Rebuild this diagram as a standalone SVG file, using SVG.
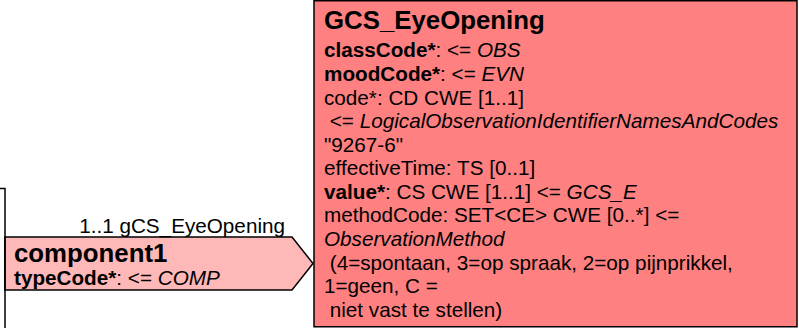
<svg xmlns="http://www.w3.org/2000/svg" width="799" height="329" viewBox="0 0 799 329">
<style>
text{font-family:"Liberation Sans",Arial,sans-serif;fill:#000}
.t{font-size:25.8px;font-weight:bold}
.b{font-size:20.7px}
.k{font-weight:bold}
.i{font-style:italic}
.ln{fill:none;stroke:#000;stroke-width:1.5}
</style>
<rect width="799" height="329" fill="#fff"/>
<g id="partial-class">
<path class="ln" d="M0,188.5 H5 V328"/>
</g>
<g id="connectors">
<path d="M5,237 H292 L313,263.5 L292,290 H5 Z" fill="#ffb8b8" stroke="#000" stroke-width="1.5"/>
<path d="M5,237 V290" stroke="#000" stroke-width="1.5"/>
<text class="b" x="285" y="233" text-anchor="end">1..1 gCS_EyeOpening</text>
<text class="t" x="14" y="262">component1</text>
<text class="b" x="14" y="285"><tspan class="k">typeCode*</tspan>: &lt;= <tspan class="i">COMP</tspan></text>
</g>
<g id="GCS_EyeOpening">
<rect x="314" y="0.75" width="483" height="326" fill="#ff8080" stroke="#000" stroke-width="1.5"/>
<text class="t" x="324" y="29">GCS_EyeOpening</text>
<g class="b">
<text class="b" x="324" y="57.3"><tspan class="k">classCode*</tspan>: &lt;= <tspan class="i">OBS</tspan></text>
<text class="b" x="324" y="80.9"><tspan class="k">moodCode*</tspan>: &lt;= <tspan class="i">EVN</tspan></text>
<text class="b" x="324" y="104.5">code*: CD CWE [1..1]</text>
<text class="b" x="324" y="128.0" xml:space="preserve"> &lt;= <tspan class="i">LogicalObservationIdentifierNamesAndCodes</tspan></text>
<text class="b" x="324" y="151.6">"9267-6"</text>
<text class="b" x="324" y="175.2">effectiveTime: TS [0..1]</text>
<text class="b" x="324" y="198.8"><tspan class="k">value*</tspan>: CS CWE [1..1] &lt;= <tspan class="i">GCS_E</tspan></text>
<text class="b" x="324" y="222.4">methodCode: SET&lt;CE&gt; CWE [0..*] &lt;=</text>
<text class="b i" x="324" y="245.9">ObservationMethod</text>
<text class="b" x="324" y="269.5" xml:space="preserve"> (4=spontaan, 3=op spraak, 2=op pijnprikkel,</text>
<text class="b" x="324" y="293.1">1=geen, C =</text>
<text class="b" x="324" y="316.7" xml:space="preserve"> niet vast te stellen)</text>
</g>
</g>
</svg>
